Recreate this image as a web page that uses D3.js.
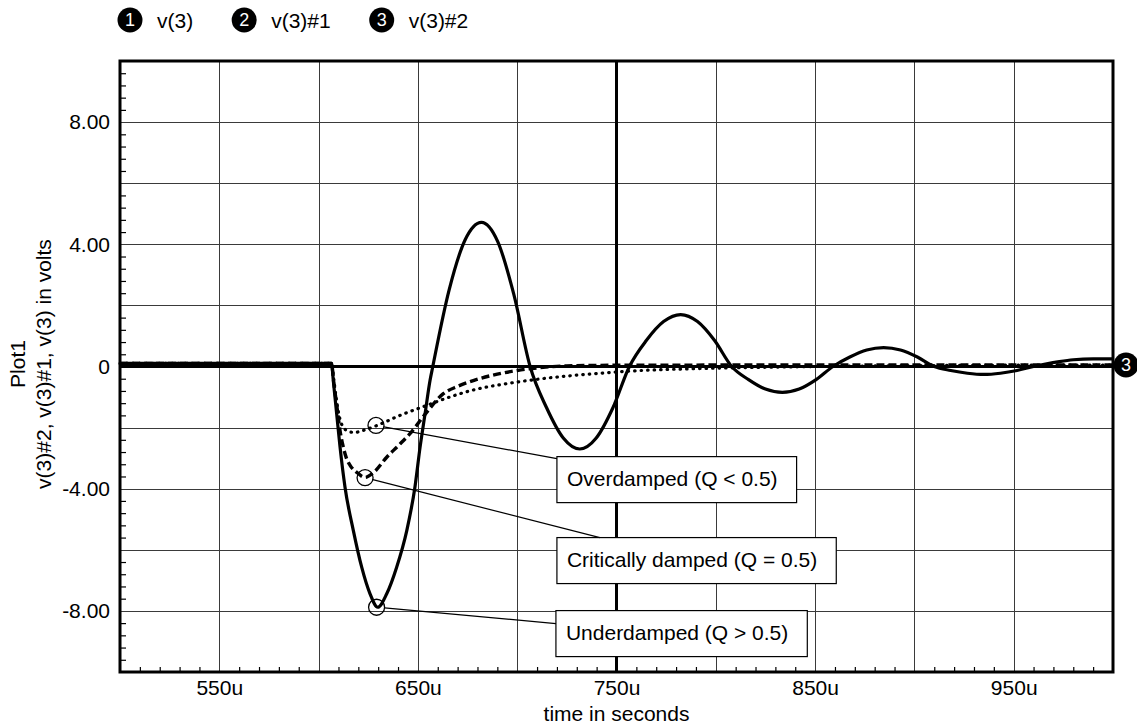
<!DOCTYPE html>
<html>
<head>
<meta charset="utf-8">
<script src="https://cdn.jsdelivr.net/npm/d3@7"></script>
<style>
body { margin: 0; background: #fff; }
text { font-family: "Liberation Sans", Arial, sans-serif; fill: #000; }
</style>
</head>
<body>
<svg id="chart"></svg>
<script>
// values, time in microseconds, volts
const seriesNames = ["v(3)", "v(3)#1", "v(3)#2"];

const underdamped = [
    [500, 0.1], [606.5, 0.1], [607.4, -0.46], [609.1, -1.55], [610.8, -2.64], [613.3, -3.95],
    [617.5, -5.37], [621.7, -6.57], [625.9, -7.44], [629.8, -7.88], [634.3, -7.44], [639.3, -6.57],
    [644.4, -5.37], [648.5, -3.95], [651.1, -2.64], [653.6, -1.55], [656.1, -0.46], [657.5, 0],
    [665.7, 2.5], [673.8, 4.15], [682, 4.72], [690.2, 4.09], [698.3, 2.36], [706.5, 0],
    [714.8, -1.35], [723.2, -2.34], [731.5, -2.7], [739.8, -2.34], [748.2, -1.35], [756.5, 0],
    [765, 0.85], [773.7, 1.47], [782.3, 1.7], [790.8, 1.47], [799.4, 0.85], [808, 0],
    [816.5, -0.43], [825, -0.74], [833.5, -0.85], [842, -0.74], [850.5, -0.43], [859, 0],
    [867.5, 0.31], [876, 0.54], [884.5, 0.62], [893, 0.54], [901.5, 0.31], [910, 0],
    [918.3, -0.13], [926.7, -0.22], [935, -0.26], [943.3, -0.22], [951.7, -0.13], [960, 0],
    [966, 0.08], [973, 0.16], [980, 0.22], [990, 0.25], [1000, 0.25]
];

const critical = [
    [500, 0.1], [606.5, 0.1], [607.6, -0.5], [609.2, -1.3], [610.8, -2.1], [612.3, -2.6],
    [614, -3.0], [616, -3.25], [619.3, -3.47], [623.4, -3.63], [628, -3.45], [634.3, -2.97],
    [640, -2.6], [646, -2.2], [654.4, -1.5], [662.8, -0.89], [670, -0.65], [677.9, -0.46],
    [690, -0.25], [700, -0.13], [711, -0.04], [725, 0.02], [750, 0.04], [850, 0.05], [1000, 0.05]
];

const overdamped = [
    [500, 0.1], [606.5, 0.1], [607.6, -0.4], [609, -1.1], [610.5, -1.65], [612.3, -1.98],
    [615, -2.12], [618, -2.16], [622, -2.1], [629.4, -1.93], [641, -1.6], [654.6, -1.27],
    [666, -1.0], [681, -0.72], [691, -0.6], [710, -0.42], [742, -0.22], [760, -0.14],
    [790, -0.07], [830, -0.02], [880, 0.02], [1000, 0.05]
];

const xGridVals = [550, 600, 650, 700, 800, 850, 900, 950];
const yGridVals = [-8, -6, -4, -2, 2, 4, 6, 8];
const xLabelVals = [550, 650, 750, 850, 950];
const xLabels = ["550u", "650u", "750u", "850u", "950u"];
const yLabelVals = [-8, -4, 0, 4, 8];
const yLabels = ["-8.00", "-4.00", "0", "4.00", "8.00"];

const noteText = ["Overdamped (Q < 0.5)", "Critically damped (Q = 0.5)", "Underdamped (Q > 0.5)"];
const notePoint = [[628.9, -1.93], [623.4, -3.64], [629.2, -7.88]];
// where each text box sits (top-left, in data units)
const noteBox = [[720, -2.95], [720, -5.6], [719.5, -7.99]];

var W = 1137, H = 725;
var pLeft = 120, pRight = 1113, pTop = 61, pBottom = 672;
var fs = 21;

var svg = d3.select("#chart").attr("width", W).attr("height", H);

var x = d3.scaleLinear().domain([500, 1000]).range([pLeft, pRight]);
var y = d3.scaleLinear().domain([-10, 10]).range([pBottom, pTop]);

// grid
var grid = svg.append("g").attr("shape-rendering", "crispEdges");
grid.selectAll(".gx").data(xGridVals).enter().append("line")
    .attr("x1", d => Math.round(x(d)) + 0.5).attr("x2", d => Math.round(x(d)) + 0.5)
    .attr("y1", pTop).attr("y2", pBottom)
    .attr("stroke", "#3a3a3a").attr("stroke-width", 1);
grid.selectAll(".gy").data(yGridVals).enter().append("line")
    .attr("y1", d => Math.round(y(d)) + 0.5).attr("y2", d => Math.round(y(d)) + 0.5)
    .attr("x1", pLeft).attr("x2", pRight)
    .attr("stroke", "#3a3a3a").attr("stroke-width", 1);

// heavy zero lines
svg.append("line").attr("x1", x(750)).attr("x2", x(750)).attr("y1", pTop).attr("y2", pBottom)
    .attr("stroke", "#000").attr("stroke-width", 3);
svg.append("line").attr("x1", pLeft).attr("x2", pRight).attr("y1", y(0)).attr("y2", y(0))
    .attr("stroke", "#000").attr("stroke-width", 3);

// minor ticks inside the frame
var xMinor = d3.range(510, 1000, 10).filter(d => d % 50 !== 0);
var yMinor = d3.range(-24, 25).map(d => +(d * 0.4).toFixed(1)).filter(d => Math.abs(d % 2) > 0.01);

svg.append("g").attr("transform", "translate(0," + pBottom + ")")
    .call(d3.axisBottom(x).tickValues(xMinor).tickSize(-5).tickFormat(""))
    .call(g => g.select(".domain").remove())
    .selectAll("line").attr("stroke", "#000").attr("stroke-width", 1.2);
svg.append("g").attr("transform", "translate(" + pLeft + ",0)")
    .call(d3.axisLeft(y).tickValues(yMinor).tickSize(-6).tickFormat(""))
    .call(g => g.select(".domain").remove())
    .selectAll("line").attr("stroke", "#000").attr("stroke-width", 1.2);

// curves
var line = d3.line().x(d => x(d[0])).y(d => y(d[1])).curve(d3.curveMonotoneX);

svg.append("path").attr("d", line(overdamped))
    .attr("fill", "none").attr("stroke", "#000").attr("stroke-width", 3.2)
    .attr("stroke-linecap", "round").attr("stroke-dasharray", "0.5,6");
svg.append("path").attr("d", line(critical))
    .attr("fill", "none").attr("stroke", "#000").attr("stroke-width", 3.4)
    .attr("stroke-dasharray", "8,4");
svg.append("path").attr("d", line(underdamped))
    .attr("fill", "none").attr("stroke", "#000").attr("stroke-width", 3.2)
    .attr("stroke-linejoin", "round");

// frame
svg.append("rect").attr("x", pLeft).attr("y", pTop)
    .attr("width", pRight - pLeft).attr("height", pBottom - pTop)
    .attr("fill", "none").attr("stroke", "#000").attr("stroke-width", 3);

// tick labels
var xa = svg.append("g").attr("transform", "translate(0," + pBottom + ")")
    .call(d3.axisBottom(x).tickValues(xLabelVals).tickSize(0).tickPadding(8)
        .tickFormat((d, i) => xLabels[i]));
xa.select(".domain").remove();
xa.attr("font-size", fs).attr("font-family", null);

var ya = svg.append("g").attr("transform", "translate(" + pLeft + ",0)")
    .call(d3.axisLeft(y).tickValues(yLabelVals).tickSize(0).tickPadding(10)
        .tickFormat((d, i) => yLabels[i]));
ya.select(".domain").remove();
ya.attr("font-size", fs).attr("font-family", null);

// axis titles
svg.append("text").attr("x", x(750)).attr("y", 721)
    .attr("text-anchor", "middle").attr("font-size", fs).text("time in seconds");
svg.append("text").attr("transform", "translate(25,364) rotate(-90)")
    .attr("text-anchor", "middle").attr("font-size", fs).text("Plot1");
svg.append("text").attr("transform", "translate(51,364) rotate(-90)")
    .attr("text-anchor", "middle").attr("font-size", fs)
    .text(seriesNames.slice().reverse().join(", ") + " in volts");

// annotations
var notes = svg.append("g");
var leaderEnd = [[0, 2], [43, 0], [0, 13]];
noteText.forEach(function (t, i) {
    var bx = x(noteBox[i][0]), by = y(noteBox[i][1]);
    var txt = notes.append("text").attr("x", bx + 10).attr("y", by + 29)
        .attr("font-size", fs).text(t);
    var tw = txt.node().getComputedTextLength();
    notes.insert("rect", "text").attr("x", bx).attr("y", by)
        .attr("width", tw + 29).attr("height", 46)
        .attr("fill", "#fff").attr("stroke", "#000").attr("stroke-width", 1.2);

    var px = x(notePoint[i][0]), py = y(notePoint[i][1]);
    var ex = bx + leaderEnd[i][0], ey = by + leaderEnd[i][1];
    var r = 8, len = Math.hypot(ex - px, ey - py);
    notes.append("line")
        .attr("x1", px + (ex - px) / len * r).attr("y1", py + (ey - py) / len * r)
        .attr("x2", ex).attr("y2", ey)
        .attr("stroke", "#000").attr("stroke-width", 1.2);
    notes.append("circle").attr("cx", px).attr("cy", py).attr("r", r)
        .attr("fill", "none").attr("stroke", "#000").attr("stroke-width", 1.3);
});

// legend
function marker(g, cx, cy, n) {
    g.append("circle").attr("cx", cx).attr("cy", cy).attr("r", 12.5).attr("fill", "#000");
    g.append("text").attr("x", cx).attr("y", cy).attr("dy", "0.36em")
        .attr("text-anchor", "middle").attr("font-size", 18)
        .style("fill", "#fff").text(n);
}

var legend = svg.append("g");
var lx = 130;
seriesNames.forEach(function (s, i) {
    marker(legend, lx, 20, i + 1);
    var t = legend.append("text").attr("x", lx + 27).attr("y", 28)
        .attr("font-size", fs).text(s);
    lx = lx + 27 + t.node().getComputedTextLength() + 51;
});

// end-of-trace marker for the third run
var last = overdamped[overdamped.length - 1];
marker(svg, x(last[0]) + 13, y(last[1]), 3);
</script>
</body>
</html>
